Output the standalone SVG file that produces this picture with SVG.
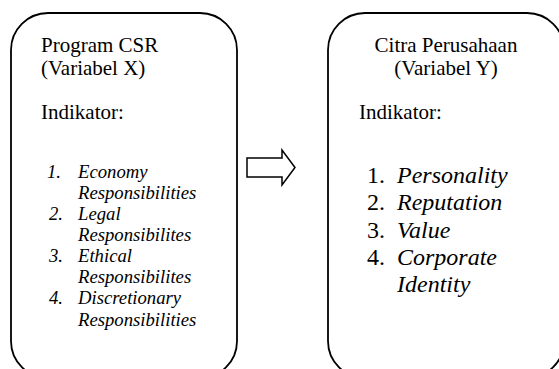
<svg xmlns="http://www.w3.org/2000/svg" width="559" height="369" viewBox="0 0 559 369">
<style>
.box{fill:#fff;stroke:#000;stroke-width:1.8}
text{font-family:"Liberation Serif","Times New Roman",serif;fill:#000}
.h{font-size:21px}
.l{font-size:18.7px;font-style:italic}
.r{font-size:24px}
.i{font-style:italic}
</style>
<rect width="559" height="369" fill="#fff"/>
<g id="node-x">
<rect class="box" x="11" y="13" width="226" height="365" rx="37" ry="37"/>
<text class="h" x="41" y="52">Program CSR</text>
<text class="h" x="41" y="75">(Variabel X)</text>
<text class="h" x="41" y="119">Indikator:</text>
<text class="l" x="47" y="178">1.</text><text class="l" x="78" y="178">Economy</text>
<text class="l" x="78" y="199">Responsibilities</text>
<text class="l" x="49" y="220">2.</text><text class="l" x="78" y="220">Legal</text>
<text class="l" x="78" y="241">Responsibilites</text>
<text class="l" x="49" y="262">3.</text><text class="l" x="78" y="262">Ethical</text>
<text class="l" x="78" y="283">Responsibilites</text>
<text class="l" x="49" y="304">4.</text><text class="l" x="78" y="304">Discretionary</text>
<text class="l" x="78" y="326">Responsibilities</text>
</g>
<g id="node-y">
<rect class="box" x="328" y="13" width="236" height="365" rx="37" ry="37"/>
<text class="h" x="446" y="52" text-anchor="middle">Citra Perusahaan</text>
<text class="h" x="446" y="75" text-anchor="middle">(Variabel Y)</text>
<text class="h" x="359" y="119">Indikator:</text>
<text class="r" x="367" y="183">1.</text><text class="r i" x="397" y="183">Personality</text>
<text class="r" x="367" y="210">2.</text><text class="r i" x="397" y="210">Reputation</text>
<text class="r" x="367" y="238">3.</text><text class="r i" x="397" y="238">Value</text>
<text class="r" x="367" y="265">4.</text><text class="r i" x="397" y="265">Corporate</text>
<text class="r i" x="397" y="292">Identity</text>
</g>
<g id="connectors">
<path d="M247,158 H282 V150 L295,167.5 L282,185 V177 H247 Z" fill="#fff" stroke="#000" stroke-width="1.5"/>
</g>
</svg>
